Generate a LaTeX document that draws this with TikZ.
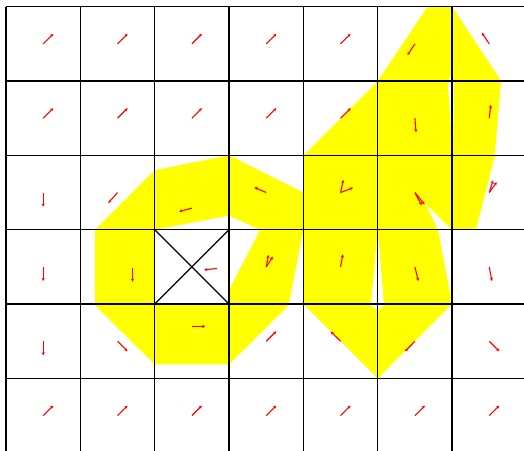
\documentclass[tikz,border=0pt]{standalone}
\usetikzlibrary{arrows.meta}
\definecolor{fluidyellow}{RGB}{255,255,0}
\begin{document}
\begin{tikzpicture}[x=1cm, y=-1cm,
  gridline/.style={draw=black, line width=0.5pt},
  fluid/.style={fill=fluidyellow, even odd rule},
  vel/.style={draw=red, line width=0.42pt, -{Stealth[length=1.2pt,width=1.2pt]}}
]
\useasboundingbox (-0.081,-0.090) rectangle (6.967,5.976);

\fill[fluid] (1.2,3.0) -- (2.0,2.2) -- (3.0,2.0) -- (4.0,2.5) -- (4.0,3.0) -- (3.8,4.02)
  -- (3.0,4.81) -- (2.0,4.81) -- (1.2,4.02) -- cycle
  (2.0,3.0) -- (3.0,2.81) -- (3.42,3.0) -- (3.0,3.81) -- (3.0,4.0) -- (2.0,4.0) -- cycle;
\fill[fluid] (5.67,0) -- (6.0,0) -- (6.66,1.0) -- (6.57,2.03) -- (6.32,3.0) -- (6.0,3.0)
  -- (5.64,2.65) -- (5.81,3.0) -- (6.0,4.0) -- (5.0,5.0) -- (4.0,4.0) -- (4.0,2.0) -- (5.0,1.0) -- cycle
  (5.98,0.92) -- (5.94,1.01) -- (6.01,1.97) -- (6.03,1.01) -- cycle
  (5.0,3.0) -- (4.907,4.02) -- (5.0,4.09) -- (5.085,4.02) -- cycle;

\foreach \i in {0,...,7} \draw[gridline] (\i,0) -- (\i,6);
\foreach \j in {0,...,6} \draw[gridline] (0,\j) -- (7,\j);
\draw[gridline, line width=0.45pt] (2,3) -- (3,4) (3,3) -- (2,4);

\foreach \c in {0,...,4} {
  \draw[vel] (\c+0.5,0.5) -- ++(0.135,-0.135);
  \draw[vel] (\c+0.5,1.5) -- ++(0.135,-0.135);
}
\foreach \c in {0,...,6} \draw[vel] (\c+0.5,5.5) -- ++(0.135,-0.135);
\draw[vel] (3.5,4.5) -- ++(0.135,-0.135);

\draw[vel] (5.5,0.5) -- (5.40,0.65);
\draw[vel] (6.5,0.5) -- (6.40,0.35);
\draw[vel] (5.5,1.5) -- (5.515,1.69);
\draw[vel] (6.5,1.5) -- (6.52,1.32);

\draw[vel] (0.5,2.5) -- (0.5,2.69);
\draw[vel] (1.5,2.5) -- (1.375,2.64);
\draw[vel] (2.5,2.71) -- (2.33,2.755);
\draw[vel] (3.5,2.5) -- (3.34,2.43);
\draw[vel] (4.5,2.5) -- (4.537,2.33);
\draw[vel] (4.5,2.5) -- (4.667,2.435);
\draw[vel] (5.5,2.5) -- (5.63,2.66);
\draw[vel] (5.5,2.5) -- (5.59,2.67);
\draw[vel] (6.5,2.5) -- (6.55,2.335);
\draw[vel] (6.5,2.5) -- (6.60,2.36);

\draw[vel] (0.5,3.5) -- (0.5,3.69);
\draw[vel] (1.70,3.51) -- (1.70,3.70);
\draw[vel] (2.84,3.52) -- (2.665,3.54);
\draw[vel] (3.5,3.5) -- (3.53,3.34);
\draw[vel] (3.5,3.5) -- (3.59,3.36);
\draw[vel] (4.5,3.5) -- (4.53,3.33);
\draw[vel] (5.5,3.5) -- (5.545,3.69);
\draw[vel] (6.5,3.5) -- (6.535,3.69);

\draw[vel] (0.5,4.5) -- (0.5,4.69);
\draw[vel] (1.5,4.5) -- (1.635,4.635);
\draw[vel] (2.5,4.3) -- (2.68,4.3);
\draw[vel] (4.5,4.5) -- (4.367,4.37);
\draw[vel] (5.5,4.5) -- (5.367,4.635);
\draw[vel] (6.5,4.5) -- (6.635,4.635);
\end{tikzpicture}
\end{document}
